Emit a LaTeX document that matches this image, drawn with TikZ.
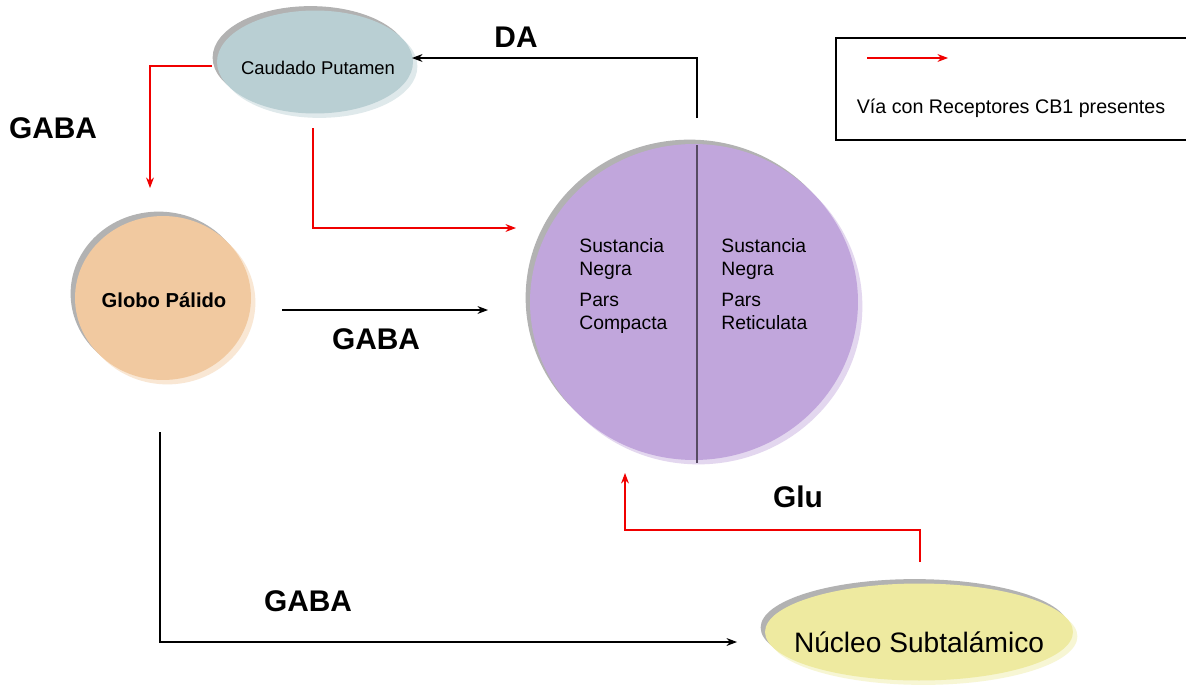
\documentclass[tikz,border=0pt]{standalone}
\usepackage{fontspec}
\setmainfont{Liberation Sans}
\usetikzlibrary{shapes.geometric,shadows,arrows.meta}
\definecolor{cpblue}{RGB}{185,207,211}
\definecolor{gporange}{RGB}{241,201,160}
\definecolor{snpurple}{RGB}{193,166,220}
\definecolor{nsyellow}{RGB}{238,234,160}
\definecolor{cbred}{RGB}{240,0,0}

\begin{document}
\begin{tikzpicture}[x=0.02cm, y=-0.02cm]
        \tikzset{blob/.style={
            ellipse,
            draw=none,
            fill=#1,
            inner sep=0pt,
            general shadow={shadow xshift=2.5pt, shadow yshift=-2.5pt, fill=#1!45},
            general shadow={shadow xshift=-2.5pt, shadow yshift=2.5pt, fill=gray!60},
        }}
        \tikzset{arrow/.style={
            line width=0.6pt,
            -{Stealth[length=6pt, width=4.5pt]},
            #1
        }}
        \tikzset{label/.style={
            font=\fontsize{17}{19}\selectfont\bfseries
        }}
        \tikzset{part/.style={
            anchor=north west,
            align=left,
            inner sep=0pt,
            font=\fontsize{11}{13}\selectfont
        }}
        \fill[white] (0,0) rectangle (1186,690);
        \useasboundingbox (0,0) rectangle (1186,690);

        \node[blob=cpblue, minimum width=3.92cm, minimum height=2.06cm] (cp) at (315,62) {};
        \node[font=\fontsize{10.5}{12}\selectfont] (cpName) at (318,68) {Caudado Putamen};
        \node[blob=gporange, minimum width=3.52cm, minimum height=3.28cm] (gp) at (163,298) {};
        \node[font=\fontsize{11.5}{13}\selectfont\bfseries] (gpName) at (164,300) {Globo Pálido};
        \node[blob=snpurple, minimum width=6.56cm, minimum height=6.32cm] (sn) at (694,302) {};
        \node[blob=nsyellow, minimum width=6.16cm, minimum height=1.94cm] (ns) at (919,632) {};
        \node[font=\fontsize{16}{18}\selectfont] (nsName) at (919,642) {Núcleo Subtalámico};

        % division of the substantia nigra
        \coordinate (snTop) at (697,145);
        \coordinate (snBot) at (697,463);
        \draw[line width=0.6pt, black!55!snpurple] (snTop) -- (snBot);
        \node[part] (snc) at (579,238) {Sustancia\\Negra\\[5pt]Pars\\Compacta};
        \node[part] (snr) at (721,238) {Sustancia\\Negra\\[5pt]Pars\\Reticulata};

        % pathways
        \coordinate (daStart) at (697,118);
        \coordinate (cpIn) at (412,58);
        \draw[arrow=black] (daStart) |- (cpIn);
        \coordinate (cpOut) at (212,66);
        \coordinate (gpIn) at (150,188);
        \draw[arrow=cbred] (cpOut) -| (gpIn);
        \coordinate (cpDown) at (313,128);
        \coordinate (snIn) at (516,228);
        \draw[arrow=cbred] (cpDown) |- (snIn);
        \coordinate (gpOut) at (282,310);
        \coordinate (snLeft) at (488,310);
        \draw[arrow=black] (gpOut) -- (snLeft);
        \coordinate (gpDown) at (160,432);
        \coordinate (nsIn) at (737,642);
        \draw[arrow=black] (gpDown) |- (nsIn);
        \coordinate (nsUp) at (920,562);
        \coordinate (turnA) at (920,530);
        \coordinate (snBelow) at (625,473);
        \draw[arrow=cbred] (nsUp) -- (turnA) -| (snBelow);

        \node[label] (da) at (516,37) {DA};
        \node[label] (gabaA) at (53,128) {GABA};
        \node[label] (gabaB) at (376,339) {GABA};
        \node[label] (gabaC) at (308,601) {GABA};
        \node[label] (glu) at (798,497) {Glu};

        % legend
        \draw[line width=0.7pt] (1186,38) -- (836,38) -- (836,140) -- (1186,140);
        \coordinate (legA) at (867,58);
        \coordinate (legB) at (948,58);
        \draw[arrow=cbred] (legA) -- (legB);
        \node[font=\fontsize{11.2}{13}\selectfont] (legtext) at (1011,108) {Vía con Receptores CB1 presentes};
\end{tikzpicture}
\end{document}
